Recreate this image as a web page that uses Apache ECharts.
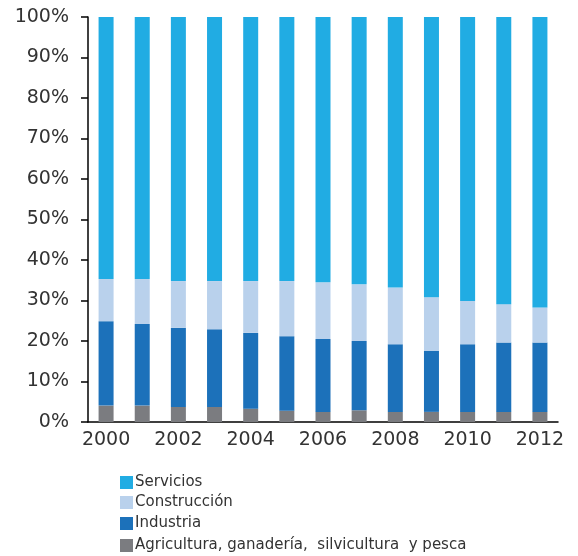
<!DOCTYPE html>
<html><head><meta charset="utf-8">
<script src="https://cdn.jsdelivr.net/npm/echarts@6/dist/echarts.min.js"></script>
<style>html,body{margin:0;padding:0;background:#fff}#c{width:578px;height:556px}</style>
</head><body><div id="c"></div>
<script>
const years = ['2000','2001','2002','2003','2004','2005','2006','2007','2008','2009','2010','2011','2012'];
const yTicks = ['0%','10%','20%','30%','40%','50%','60%','70%','80%','90%','100%'];
const agricultura = [4.05,4.05,3.7,3.7,3.3,2.8,2.5,2.9,2.5,2.5,2.5,2.5,2.5];
const industria = [20.85,20.15,19.6,19.2,18.7,18.4,18.0,17.1,16.7,15.1,16.7,17.1,17.1];
const construccion = [10.4,11.1,11.5,11.9,12.8,13.6,14.0,14.0,14.0,13.2,10.7,9.5,8.7];
const servicios = [64.7,64.7,65.2,65.2,65.2,65.2,65.5,66.0,66.8,69.2,70.1,70.9,71.7];
const names = ['Agricultura, ganadería,  silvicultura  y pesca','Industria','Construcción','Servicios'];
const colors = ['#7b7c80','#1c71ba','#b9d1ec','#21ace3'];
const data = [agricultura, industria, construccion, servicios];
const legendTops = [470, 490, 511, 533];

const chart = echarts.init(document.getElementById('c'));
chart.setOption({
  animation:false,
  textStyle:{fontFamily:'DejaVu Sans'},
  grid:{left:88,top:17,width:470,height:405,containLabel:false},
  legend:[3,2,1,0].map((k,j)=>({
    orient:'vertical', left:115, top:legendTops[j],
    data:[names[k]],
    itemWidth:13, itemHeight:13,
    icon:'rect',
    textStyle:{fontSize:15,color:'#333',padding:[0,0,0,-3]}
  })),
  xAxis:{
    type:'category', data:years,
    axisLine:{lineStyle:{color:'#000',width:1.5}},
    axisTick:{show:false},
    axisLabel:{interval:1,fontSize:19,color:'#333',margin:9}
  },
  yAxis:{
    type:'value', min:0, max:100, interval:10,
    axisLine:{show:true,lineStyle:{color:'#000',width:1.5}},
    axisTick:{show:true,length:7,inside:false,lineStyle:{color:'#000',width:1.5}},
    splitLine:{show:false},
    axisLabel:{fontSize:19,color:'#333',margin:19,formatter:v=>yTicks[Math.round(v/10)]}
  },
  series:data.map((d,i)=>({
    name:names[i], type:'bar', stack:'total', data:d,
    barWidth:15,
    itemStyle:{color:colors[i]}
  }))
});
</script></body></html>
